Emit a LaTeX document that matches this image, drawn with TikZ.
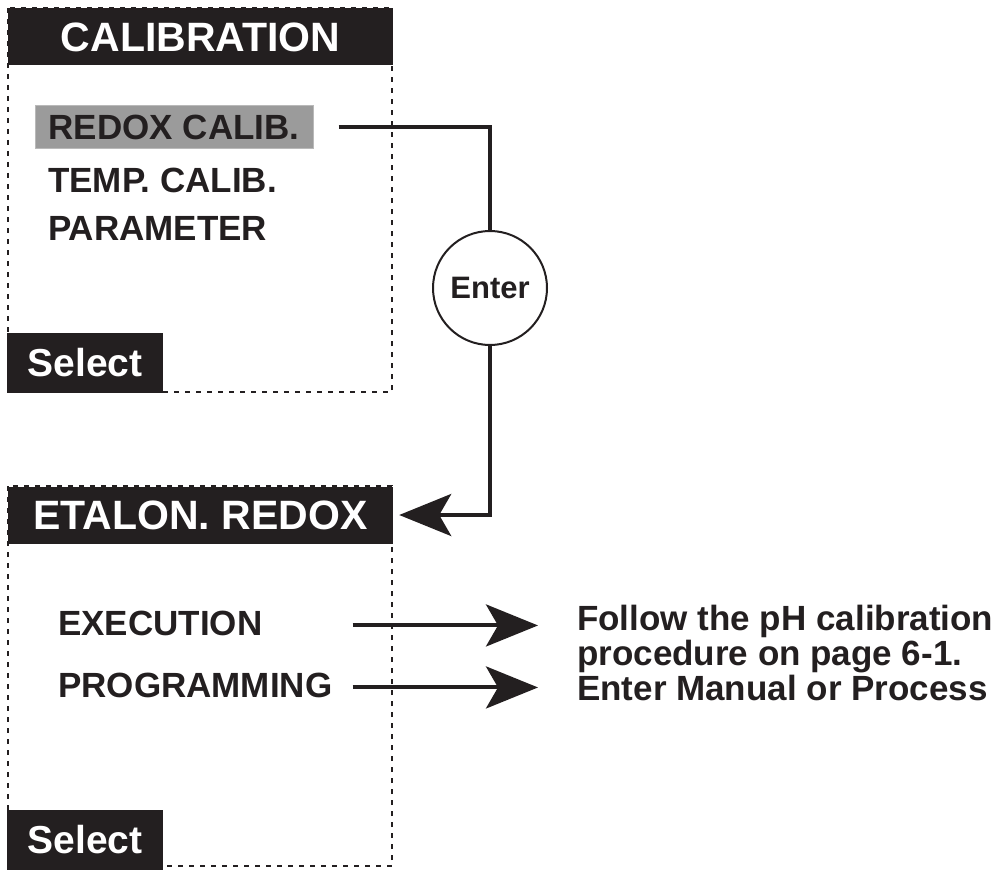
\documentclass[tikz,border=0pt]{standalone}
\usepackage{fontspec}
\setmainfont{Liberation Sans}
\usetikzlibrary{arrows.meta,positioning}
\definecolor{ink}{HTML}{231F20}
\definecolor{hilite}{HTML}{9B9B9B}
\begin{document}
\begin{tikzpicture}[x=1pt, y=-1pt,
  frame/.style={draw=ink, line width=2.8pt, dash pattern=on 5pt off 6pt},
  titlebar/.style={fill=ink, text=white, font=\fontsize{41}{41}\selectfont\bfseries, minimum width=385pt, minimum height=57pt, inner sep=0pt},
  selbox/.style={fill=ink, text=white, font=\fontsize{39}{39}\selectfont\bfseries, minimum width=156pt, minimum height=60pt, inner sep=0pt},
  item/.style={anchor=base west, text=ink, font=\fontsize{35}{35}\selectfont\bfseries, inner sep=0pt},
  marked/.style={fill=hilite, draw=hilite!70, line width=1pt, text=ink, font=\fontsize{35}{35}\selectfont\bfseries, minimum width=278pt, minimum height=43pt, inner sep=0pt},
  key/.style={circle, draw=ink, line width=2pt, fill=white, minimum size=114pt, inner sep=0pt, text=ink, font=\fontsize{31}{31}\selectfont\bfseries},
  link/.style={draw=ink, line width=4pt},
  bigarrow/.style={link, -{Stealth[length=52pt, width=42pt, inset=12pt]}}
]
\useasboundingbox (0,0) rectangle (1008,869);

% calibration menu
\draw[frame] (8,8) rectangle (392,392);
\node[titlebar] (calib) at (200.5,37) {CALIBRATION};
\node[marked] (redox) at (174,127) {REDOX CALIB.};
\node[item] (temp) at (48,192) {TEMP. CALIB.};
\node[item] (param) at (48,240) {PARAMETER};
\node[selbox] (sel1) at (85,363) {Select};

% redox menu
\draw[frame] (8,486) rectangle (392,866);
\node[titlebar] (etalon) at (200.5,515) {ETALON. REDOX};
\node[item] (exec) at (58,635) {EXECUTION};
\node[item] (prog) at (58,697) {PROGRAMMING};
\node[selbox] (sel2) at (85,839.5) {Select};

\node[key] (enter) at (490,288) {Enter};
\node[anchor=north west, align=left, inner sep=0pt, text=ink, font=\fontsize{35}{35}\selectfont\bfseries] (note) at (577,605) {Follow the pH calibration\\procedure on page 6-1.\\Enter Manual or Process};

\draw[link] ([xshift=25pt]redox.east) -| (enter.north);
\draw[bigarrow] (enter.south) |- ([xshift=6pt]etalon.east);
\draw[bigarrow] ([xshift=20pt,yshift=-2.5pt]prog.east |- exec.center) -- ([xshift=-39pt,yshift=-2.5pt]note.west |- exec.center);
\draw[bigarrow] ([xshift=20pt,yshift=-2.5pt]prog.east) -- ([xshift=-39pt,yshift=-2.5pt]note.west |- prog.center);
\end{tikzpicture}
\end{document}
